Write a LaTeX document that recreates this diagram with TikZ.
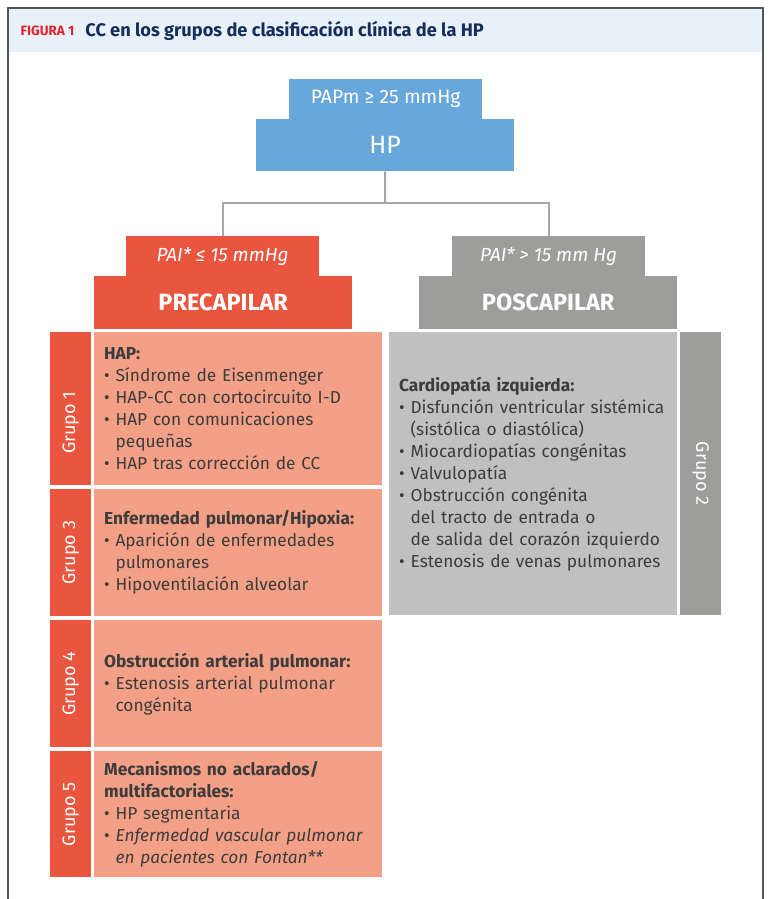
\documentclass[tikz,border=0pt]{standalone}
\usepackage{fontspec}
\setmainfont{Fira Sans}
\usetikzlibrary{positioning}
\definecolor{figred}{RGB}{226, 35, 42}
\definecolor{navy}{RGB}{22, 45, 92}
\definecolor{hdrband}{RGB}{232, 240, 250}
\definecolor{hpblue}{RGB}{104, 167, 220}
\definecolor{prered}{RGB}{234, 85, 64}
\definecolor{salmon}{RGB}{244, 160, 134}
\definecolor{posgray}{RGB}{157, 157, 155}
\definecolor{lightgray}{RGB}{192, 192, 192}
\definecolor{textgray}{RGB}{60, 60, 60}
\definecolor{framegray}{RGB}{85, 85, 85}
\newcommand{\bul}{\textbullet\ }
\newcommand{\ind}{\phantom{\textbullet\ }}

\begin{document}
\begin{tikzpicture}[x=1pt, y=-1pt,
    blockbox/.style={anchor=north west, inner sep=0pt, text=white},
    tabbox/.style={blockbox, minimum width=41pt, font=\fontsize{18}{20}\selectfont},
    listbox/.style={anchor=north west, inner xsep=10pt, inner ysep=0pt, text width=268pt,
        minimum width=288pt, align=left, text=textgray, font=\fontsize{17.3}{22}\selectfont},
    conn/.style={draw=posgray!90, line width=2pt}]
            % Frame to ensure alignment:
            \useasboundingbox (0,0) rectangle (768,899);
            \fill[hdrband] (9,9) rectangle (762,52);
            \draw[framegray, line width=1.6pt] (8,899) -- (8,8) -- (763,8) -- (763,899);
            \node[anchor=west, text=figred, font=\bfseries\fontsize{13.5}{15}\selectfont] (fig) at (17,31) {FIGURA 1};
            \node[right=4pt of fig, text=navy, font=\bfseries\fontsize{18.2}{20}\selectfont] (title) {CC en los grupos de clasificación clínica de la HP};
            % Top level:
            \node[blockbox, fill=hpblue, minimum width=193pt, minimum height=40pt, font=\fontsize{19.4}{21}\selectfont] (papm) at (289,79) {PAPm ≥ 25 mmHg};
            \node[blockbox, fill=hpblue, minimum width=258pt, minimum height=52pt, font=\fontsize{25}{27}\selectfont] (hp) at (256,119) {HP};
            % Second level:
            \node[blockbox, fill=prered, minimum width=193pt, minimum height=40pt, font=\itshape\fontsize{19}{21}\selectfont] (pailo) at (126,236) {PAI* ≤ 15 mmHg};
            \node[blockbox, fill=prered, minimum width=258pt, minimum height=53pt, font=\bfseries\fontsize{23.5}{25}\selectfont] (precap) at (94,276) {PRECAPILAR};
            \node[blockbox, fill=posgray, minimum width=193pt, minimum height=40pt, font=\itshape\fontsize{19}{21}\selectfont] (paihi) at (452,236) {PAI* > 15 mm Hg};
            \node[blockbox, fill=posgray, minimum width=258pt, minimum height=53pt, font=\bfseries\fontsize{23.5}{25}\selectfont] (poscap) at (419,276) {POSCAPILAR};
            \coordinate (split) at (385,203);
            \draw[conn] (hp.south) -- (split);
            \draw[conn] (split) -| (pailo.north);
            \draw[conn] (split) -| (paihi.north);
            % Precapilar groups:
            \node[tabbox, fill=prered, minimum height=153pt] (tab1) at (50,332) {\raisebox{\dimexpr-0.5\height-14pt\relax}[0pt][0pt]{\rotatebox{90}{Grupo 1}}};
            \node[listbox, fill=salmon, minimum height=153pt] (grp1) at (94,332)
                {\textbf{HAP:}\\ \bul Síndrome de Eisenmenger\\ \bul HAP-CC con cortocircuito I-D\\
                 \bul HAP con comunicaciones\\ \ind pequeñas\\ \bul HAP tras corrección de CC};
            \node[tabbox, fill=prered, minimum height=127pt] (tab3) at (50,489) {\rotatebox{90}{Grupo 3}};
            \node[listbox, fill=salmon, minimum height=127pt] (grp3) at (94,489)
                {\textbf{Enfermedad pulmonar/Hipoxia:}\\ \bul Aparición de enfermedades\\ \ind pulmonares\\
                 \bul Hipoventilación alveolar};
            \node[tabbox, fill=prered, minimum height=127pt] (tab4) at (50,620) {\rotatebox{90}{Grupo 4}};
            \node[listbox, fill=salmon, minimum height=127pt] (grp4) at (94,620)
                {\textbf{Obstrucción arterial pulmonar:}\\ \bul Estenosis arterial pulmonar\\ \ind congénita};
            \node[tabbox, fill=prered, minimum height=126pt] (tab5) at (50,751) {\rotatebox{90}{Grupo 5}};
            \node[listbox, fill=salmon, minimum height=126pt] (grp5) at (94,751)
                {\textbf{Mecanismos no aclarados/}\\ \textbf{multifactoriales:}\\ \bul HP segmentaria\\
                 \bul \textit{Enfermedad vascular pulmonar}\\ \ind \textit{en pacientes con Fontan**}};
            % Poscapilar group:
            \node[listbox, fill=lightgray, minimum height=283pt] (grp2) at (389,332)
                {\textbf{Cardiopatía izquierda:}\\ \bul Disfunción ventricular sistémica\\ \ind (sistólica o diastólica)\\
                 \bul Miocardiopatías congénitas\\ \bul Valvulopatía\\ \bul Obstrucción congénita\\
                 \ind del tracto de entrada o\\ \ind de salida del corazón izquierdo\\ \bul Estenosis de venas pulmonares};
            \node[tabbox, fill=posgray, minimum height=283pt] (tab2) at (680,332) {\rotatebox{-90}{Grupo 2}};
        \end{tikzpicture}
\end{document}
